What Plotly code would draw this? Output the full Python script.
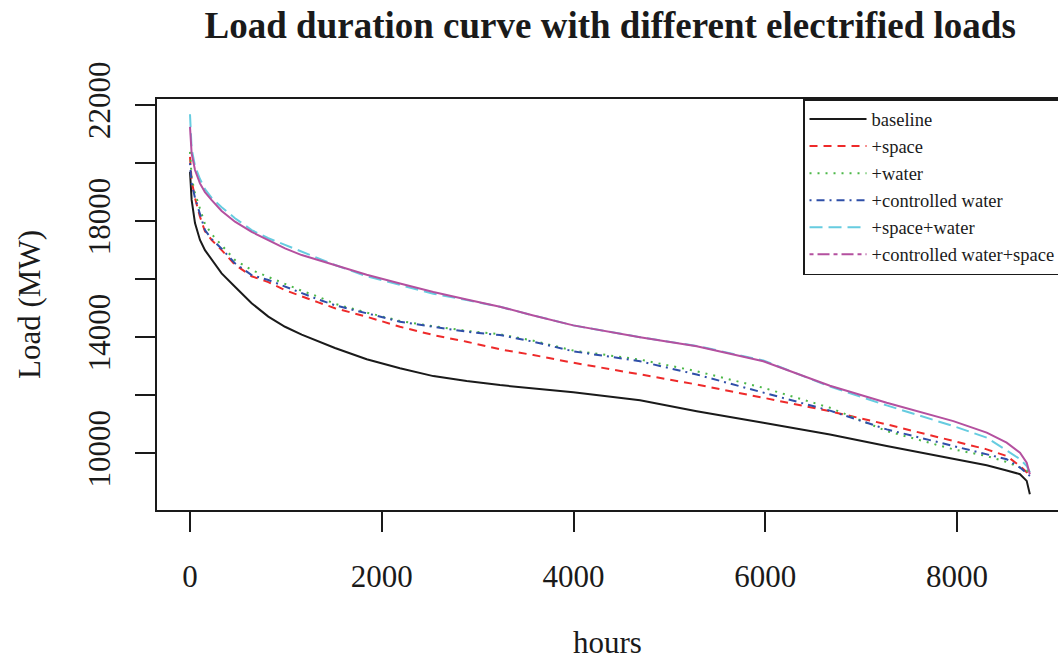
import plotly.graph_objects as go

hours = [0, 17, 52, 104, 156, 226, 330, 469, 643, 817, 991, 1165, 1338, 1512, 1843, 2190, 2538,
         2886, 3233, 3581, 3998, 4694, 5285, 5980, 6675, 7267, 7962, 8310, 8518, 8657, 8727, 8760]

baseline = [19700, 18730, 17930, 17350, 17000, 16660, 16200, 15740, 15170, 14710, 14360, 14090, 13850, 13630,
            13240, 12930, 12660, 12490, 12350, 12240, 12100, 11830, 11450, 11050, 10650, 10250, 9820,
            9590, 9410, 9280, 9050, 8590]
space = [20215, 19400, 18800, 18150, 17650, 17350, 17000, 16500, 16100, 15900, 15620, 15400, 15200, 15000,
         14706, 14360, 14075, 13845, 13583, 13386, 13120, 12720, 12371, 11914, 11450, 10997, 10423,
         10137, 9907, 9564, 9350, 9165]
water = [20387, 19500, 18960, 18450, 17900, 17550, 17180, 16660, 16315, 16080, 15856, 15600, 15395, 15150,
         14850, 14560, 14380, 14220, 14100, 13880, 13540, 13230, 12828, 12257, 11570, 10767, 10137,
         9907, 9700, 9500, 9420, 9200]
ctrl_water = [20000, 19310, 18800, 18200, 17690, 17380, 17050, 16545, 16140, 15970, 15740, 15510, 15300, 15100,
              14820, 14535, 14360, 14190, 14075, 13845, 13515, 13171, 12714, 12085, 11470, 10825, 10251,
              9966, 9794, 9509, 9300, 9220]
space_water = [21682, 20500, 19900, 19450, 19100, 18800, 18480, 18100, 17690, 17410, 17180, 16945, 16720, 16490,
               16100, 15800, 15500, 15280, 15050, 14750, 14408, 14000, 13700, 13200, 12300, 11650, 10938,
               10540, 10100, 9800, 9564, 9347]
ctrl_water_space = [21245, 20335, 19760, 19300, 19000, 18720, 18350, 17980, 17630, 17350, 17060, 16830, 16660,
                    16490, 16150, 15850, 15560, 15300, 15050, 14750, 14408, 14000, 13687, 13171, 12330, 11742,
                    11110, 10711, 10367, 10023, 9680, 9278]

names = ["baseline", "+space", "+water", "+controlled water", "+space+water", "+controlled water+space"]
colors = ["#1a1a1a", "#ee2a2a", "#4cb848", "#2f4fa8", "#66cce0", "#b4509f"]
dashes = ["solid", "8px,6px", "2px,6px", "2px,5px,8px,5px", "13px,6px", "solid"]
legend_dashes = ["solid", "8px,6px", "2px,6px", "2px,5px,8px,5px", "13px,6px", "4px,4px,12px,4px"]
series = [baseline, space, water, ctrl_water, space_water, ctrl_water_space]

y_tickvals = [10000, 12000, 14000, 16000, 18000, 20000, 22000]
y_ticktext = ["10000", "", "14000", "", "18000", "", "22000"]
x_tickvals = [0, 2000, 4000, 6000, 8000]

FONT = "Liberation Serif, Times New Roman, serif"

fig = go.Figure()
for nm, c, d, s in zip(names, colors, dashes, series):
    fig.add_trace(go.Scatter(x=hours, y=s, mode="lines", name=nm,
                             line=dict(color=c, width=2, dash=d),
                             showlegend=False, hoverinfo="skip"))
for nm, c, d in zip(names, colors, legend_dashes):
    fig.add_trace(go.Scatter(x=[None], y=[None], mode="lines", name=nm,
                             line=dict(color=c, width=2, dash=d),
                             showlegend=True))

fig.update_layout(
    width=1058, height=660,
    margin=dict(l=157, r=0, t=99, b=150, autoexpand=False),
    paper_bgcolor="white", plot_bgcolor="white",
    font=dict(family=FONT, size=31, color="#1a1a1a"),
    title=dict(text="<b>Load duration curve with different electrified loads</b>",
               x=0.503, xref="paper", xanchor="center",
               y=1 - 25 / 660, yref="container", yanchor="middle",
               font=dict(family=FONT, size=37, color="#1a1a1a")),
    showlegend=True,
    legend=dict(x=0.717, y=1, xanchor="left", yanchor="top",
                bgcolor="white", bordercolor="#1a1a1a", borderwidth=1.5,
                font=dict(family=FONT, size=18.5, color="#1a1a1a"),
                itemwidth=57),
    xaxis=dict(range=[-344.2, 9053.5], tickvals=x_tickvals, ticktext=[str(v) for v in x_tickvals],
               ticks="outside", ticklen=20, tickwidth=1.5, tickcolor="#1a1a1a",
               showline=True, linecolor="#1a1a1a", linewidth=1.5, mirror=True,
               showgrid=False, zeroline=False, automargin=False,
               tickfont=dict(family=FONT, size=31),
               ticklabelstandoff=18,
               title=dict(text="hours", font=dict(family=FONT, size=31), standoff=39)),
    yaxis=dict(range=[8047, 22207], tickvals=y_tickvals, ticktext=y_ticktext,
               ticks="outside", ticklen=20, tickwidth=1.5, tickcolor="#1a1a1a",
               showline=True, linecolor="#1a1a1a", linewidth=1.5, mirror=True,
               showgrid=False, zeroline=False, tickangle=-90, automargin=False,
               tickfont=dict(family=FONT, size=31),
               ticklabelstandoff=13,
               title=dict(text="Load (MW)", font=dict(family=FONT, size=31), standoff=32)),
)

fig.write_html("out.html", config={"displayModeBar": False},
               post_script="document.body.style.margin='0';document.body.style.padding='0';")
